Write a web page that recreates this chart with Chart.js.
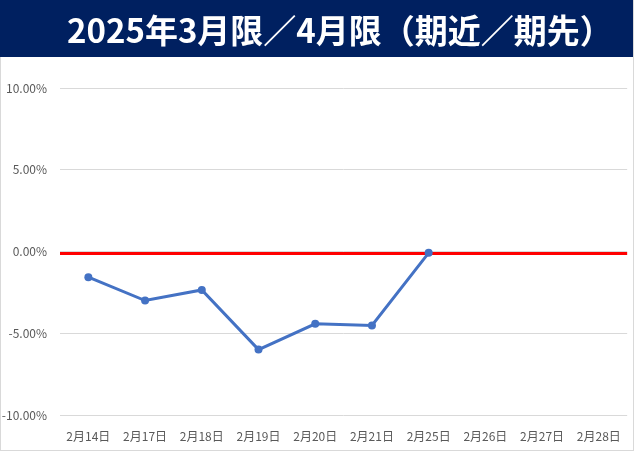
<!DOCTYPE html>
<html>
<head>
<meta charset="utf-8">
<script src="https://cdn.jsdelivr.net/npm/chart.js@4.4.1/dist/chart.umd.min.js"></script>
<style>
  html, body { margin: 0; padding: 0; background: #fff; }
  #wrap { position: relative; width: 635px; height: 451px; overflow: hidden; }
  #frame { position: absolute; left: 0; top: 0; width: 632px; height: 449px; border: 1px solid #d9d9d9; box-sizing: content-box; }
  #titlebar { position: absolute; left: 0; top: 0; width: 633px; height: 57px; background: #002060; }
  #title { position: absolute; left: 67px; top: 1px; height: 57px; line-height: 57px; color: #fff;
           font-family: "Noto Sans CJK JP", sans-serif; font-weight: bold; font-size: 33px; white-space: nowrap; }
  canvas { position: absolute; left: 0; top: 0; }
</style>
</head>
<body>
<div id="wrap">
  <div id="frame"></div>
  <canvas id="c" width="635" height="451"></canvas>
  <div id="titlebar"><div id="title">2025年3月限／4月限（期近／期先）</div></div>
</div>
<script>
const titleText = "2025年3月限／4月限（期近／期先）";
const categories = ["2月14日","2月17日","2月18日","2月19日","2月20日","2月21日","2月25日","2月26日","2月27日","2月28日"];
const spreadValues = [-1.57, -3.0, -2.35, -6.0, -4.42, -4.52, -0.08, null, null, null];
const zeroLine = [-0.12, -0.12, -0.12, -0.12, -0.12, -0.12, -0.12, -0.12, -0.12, -0.12];
const yTicks = [10, 5, 0, -5, -10];

document.getElementById('title').textContent = titleText;

new Chart(document.getElementById('c'), {
  type: 'line',
  data: {
    labels: categories,
    datasets: [
      {
        label: 'spread',
        data: spreadValues,
        borderColor: '#4472c4',
        backgroundColor: '#4472c4',
        borderWidth: 3,
        pointRadius: 4,
        pointHoverRadius: 4,
        pointBorderWidth: 0,
        spanGaps: false,
        order: 1,
        xAxisID: 'x'
      },
      {
        label: 'zero',
        data: zeroLine,
        borderColor: '#ff0000',
        borderWidth: 3,
        pointRadius: 0,
        order: 2,
        xAxisID: 'x2'
      }
    ]
  },
  options: {
    responsive: false,
    animation: false,
    devicePixelRatio: 1,
    layout: { padding: { top: 88, right: 2, left: 0, bottom: 0 } },
    plugins: { legend: { display: false }, title: { display: false }, tooltip: { enabled: false } },
    scales: {
      x: {
        type: 'category',
        offset: true,
        grid: { display: false, drawTicks: false },
        border: { display: false },
        ticks: { color: '#595959', font: { family: '"Noto Sans CJK JP", sans-serif', size: 12 }, padding: 14, maxRotation: 0, autoSkip: false },
        afterFit: (s) => { s.height = 36; }
      },
      x2: {
        type: 'category',
        labels: categories,
        offset: false,
        display: false
      },
      y: {
        min: -10, max: 10,
        afterBuildTicks: (s) => { s.ticks = yTicks.map(v => ({ value: v })); },
        grid: { color: '#d9d9d9', lineWidth: 1, drawTicks: false },
        border: { display: false },
        ticks: { color: '#595959', font: { family: '"Noto Sans CJK JP", sans-serif', size: 12 }, padding: 13,
                 callback: (v) => v.toFixed(2) + '%' },
        afterFit: (s) => { s.width = 60; }
      }
    }
  }
});
</script>
</body>
</html>
